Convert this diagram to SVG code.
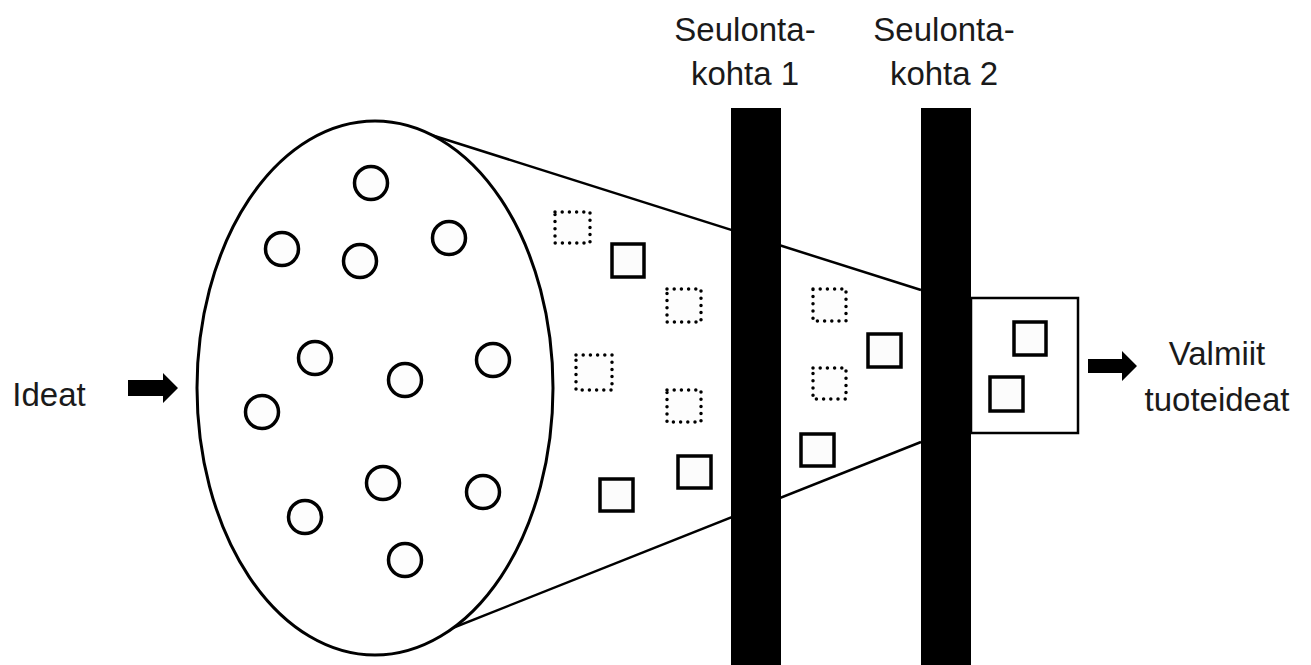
<svg xmlns="http://www.w3.org/2000/svg" width="1311" height="665" viewBox="0 0 1311 665">
<style>
.t{font-family:"Liberation Sans",Arial,sans-serif;font-size:33px;fill:#1a1a1a;text-anchor:middle}
.c{fill:#fdfdfd;stroke:#000;stroke-width:3.5}
.s{fill:#fcfcfc;stroke:#000;stroke-width:3.5}
.d{fill:#fdfdfd;stroke:#000;stroke-width:3.5;stroke-dasharray:0 7.2;stroke-linecap:round}
.bar{fill:#000}
.ln{stroke:#000;stroke-width:2.5;fill:none}
</style>
<rect width="1311" height="665" fill="#fff"/>
<g id="connectors">
<line class="ln" x1="425" y1="133" x2="921" y2="290"/>
<line class="ln" x1="430" y1="637" x2="921" y2="442"/>
<polygon id="arrow-in" fill="#000" points="128,380 163,380 163,373 178,388 163,403 163,396 128,396"/>
<polygon id="arrow-out" fill="#000" points="1088,359 1122,359 1122,351 1137,366 1122,381 1122,373 1088,373"/>
</g>
<g id="ideas-pool">
<ellipse cx="375" cy="388" rx="178" ry="267" fill="#fff" stroke="#000" stroke-width="3"/>
<circle class="c" cx="371" cy="183" r="16.5"/>
<circle class="c" cx="282" cy="249" r="16.5"/>
<circle class="c" cx="360" cy="261" r="16.5"/>
<circle class="c" cx="449" cy="238" r="16.5"/>
<circle class="c" cx="315" cy="358" r="16.5"/>
<circle class="c" cx="405" cy="380" r="16.5"/>
<circle class="c" cx="493" cy="360" r="16.5"/>
<circle class="c" cx="262" cy="412" r="16.5"/>
<circle class="c" cx="383" cy="483" r="16.5"/>
<circle class="c" cx="483" cy="492" r="16.5"/>
<circle class="c" cx="305" cy="517" r="16.5"/>
<circle class="c" cx="405" cy="560" r="16.5"/>
</g>
<g id="stage1-items">
<rect class="d" x="555" y="212" width="35" height="31"/>
<rect class="s" x="612" y="244" width="32" height="33"/>
<rect class="d" x="667" y="289" width="34" height="33"/>
<rect class="d" x="576" y="355" width="36" height="35"/>
<rect class="d" x="667" y="390" width="34" height="32"/>
<rect class="s" x="678" y="456" width="33" height="32"/>
<rect class="s" x="600" y="479" width="33" height="32"/>
</g>
<g id="screen1">
<rect class="bar" x="731" y="108" width="50" height="557"/>
<text class="t" x="745" y="41">Seulonta-</text>
<text class="t" x="745" y="85">kohta 1</text>
</g>
<g id="stage2-items">
<rect class="d" x="813" y="289" width="33" height="32"/>
<rect class="d" x="813" y="368" width="33" height="31"/>
<rect class="s" x="868" y="334" width="33" height="33"/>
<rect class="s" x="801" y="434" width="33" height="32"/>
</g>
<g id="screen2">
<rect class="bar" x="921" y="108" width="50" height="557"/>
<text class="t" x="944" y="41">Seulonta-</text>
<text class="t" x="944" y="85">kohta 2</text>
</g>
<g id="output-box">
<rect x="971" y="298" width="107" height="135" fill="#fff" stroke="#000" stroke-width="2.5"/>
<rect class="s" x="1014" y="322" width="32" height="33"/>
<rect class="s" x="990" y="377" width="33" height="34"/>
</g>
<g id="labels">
<text class="t" x="49" y="406">Ideat</text>
<text class="t" x="1217" y="365">Valmiit</text>
<text class="t" x="1217" y="411">tuoteideat</text>
</g>
</svg>
